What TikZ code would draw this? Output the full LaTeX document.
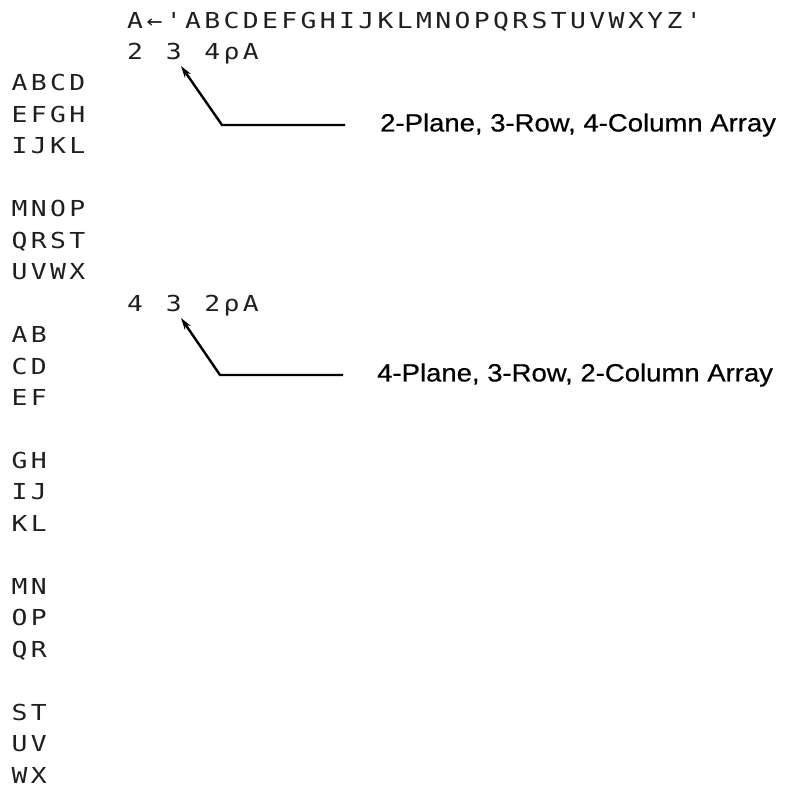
\documentclass[tikz,border=0pt]{standalone}
\usepackage{fontspec}
\setmainfont{Liberation Sans}
\newfontfamily\dotfont[Ligatures=TeXOff]{DejaVu Sans Mono}
\newfontfamily\labfont[FakeBold=0.5]{Liberation Sans}
\usetikzlibrary{arrows.meta}
\newlength\dmpitch
\setlength\dmpitch{19.26pt}
\makeatletter
\def\dm@end{DMEND}
\def\dmrow#1{\dm@loop#1\dm@end}
\def\dm@loop#1{\ifx#1\dm@end\else\makebox[\dmpitch][c]{\scalebox{1.2}[1]{#1}}\expandafter\dm@loop\fi}
\makeatother
\tikzset{
  dm/.style={anchor=base west, inner sep=0pt, outer sep=0pt,
    font=\dotfont\fontsize{22}{26}\selectfont, text=black!88},
  lab/.style={anchor=west, inner sep=0pt, font=\labfont\fontsize{25}{30}\selectfont},
  arr/.style={line width=2.4pt, -{Stealth[length=12pt,width=7pt]}}
}
\begin{document}
\begin{tikzpicture}[x=1pt,y=-1pt]
\useasboundingbox (0,0) rectangle (786,787);
% input lines (indented six columns)
\node[dm] (in1) at (125.56,28) {\dmrow{A←'ABCDEFGHIJKLMNOPQRSTUVWXYZ'}};
\node[dm] (in2) at (125.56,59.46) {\dmrow{2~3~4ρA}};
% output of 2 3 4 rho A
\node[dm] (r2)  at (10,90.92)  {\dmrow{ABCD}};
\node[dm] (r3)  at (10,122.38) {\dmrow{EFGH}};
\node[dm] (r4)  at (10,153.84) {\dmrow{IJKL}};
\node[dm] (r6)  at (10,216.76) {\dmrow{MNOP}};
\node[dm] (r7)  at (10,248.22) {\dmrow{QRST}};
\node[dm] (r8)  at (10,279.68) {\dmrow{UVWX}};
% second input
\node[dm] (in3) at (125.56,311.14) {\dmrow{4~3~2ρA}};
% output of 4 3 2 rho A
\node[dm] (r10) at (10,342.6)  {\dmrow{AB}};
\node[dm] (r11) at (10,374.06) {\dmrow{CD}};
\node[dm] (r12) at (10,405.52) {\dmrow{EF}};
\node[dm] (r14) at (10,468.44) {\dmrow{GH}};
\node[dm] (r15) at (10,499.9)  {\dmrow{IJ}};
\node[dm] (r16) at (10,531.36) {\dmrow{KL}};
\node[dm] (r18) at (10,594.28) {\dmrow{MN}};
\node[dm] (r19) at (10,625.74) {\dmrow{OP}};
\node[dm] (r20) at (10,657.2)  {\dmrow{QR}};
\node[dm] (r22) at (10,720.12) {\dmrow{ST}};
\node[dm] (r23) at (10,751.58) {\dmrow{UV}};
\node[dm] (r24) at (10,783.04) {\dmrow{WX}};
% labels
\node[lab] (lab1) at (380,125) {\scalebox{1.1}[1]{2-Plane, 3-Row, 4-Column Array}};
\node[lab] (lab2) at (377,375) {\scalebox{1.1}[1]{4-Plane, 3-Row, 2-Column Array}};
% leader arrows
\coordinate (tip1) at (181,66);
\coordinate (cor1) at (222,125);
\coordinate (end1) at (345,125);
\coordinate (tip2) at (181,318);
\coordinate (cor2) at (220,375);
\coordinate (end2) at (343,375);
\draw[arr] (end1) -- (cor1) -- (tip1);
\draw[arr] (end2) -- (cor2) -- (tip2);
\end{tikzpicture}
\end{document}
